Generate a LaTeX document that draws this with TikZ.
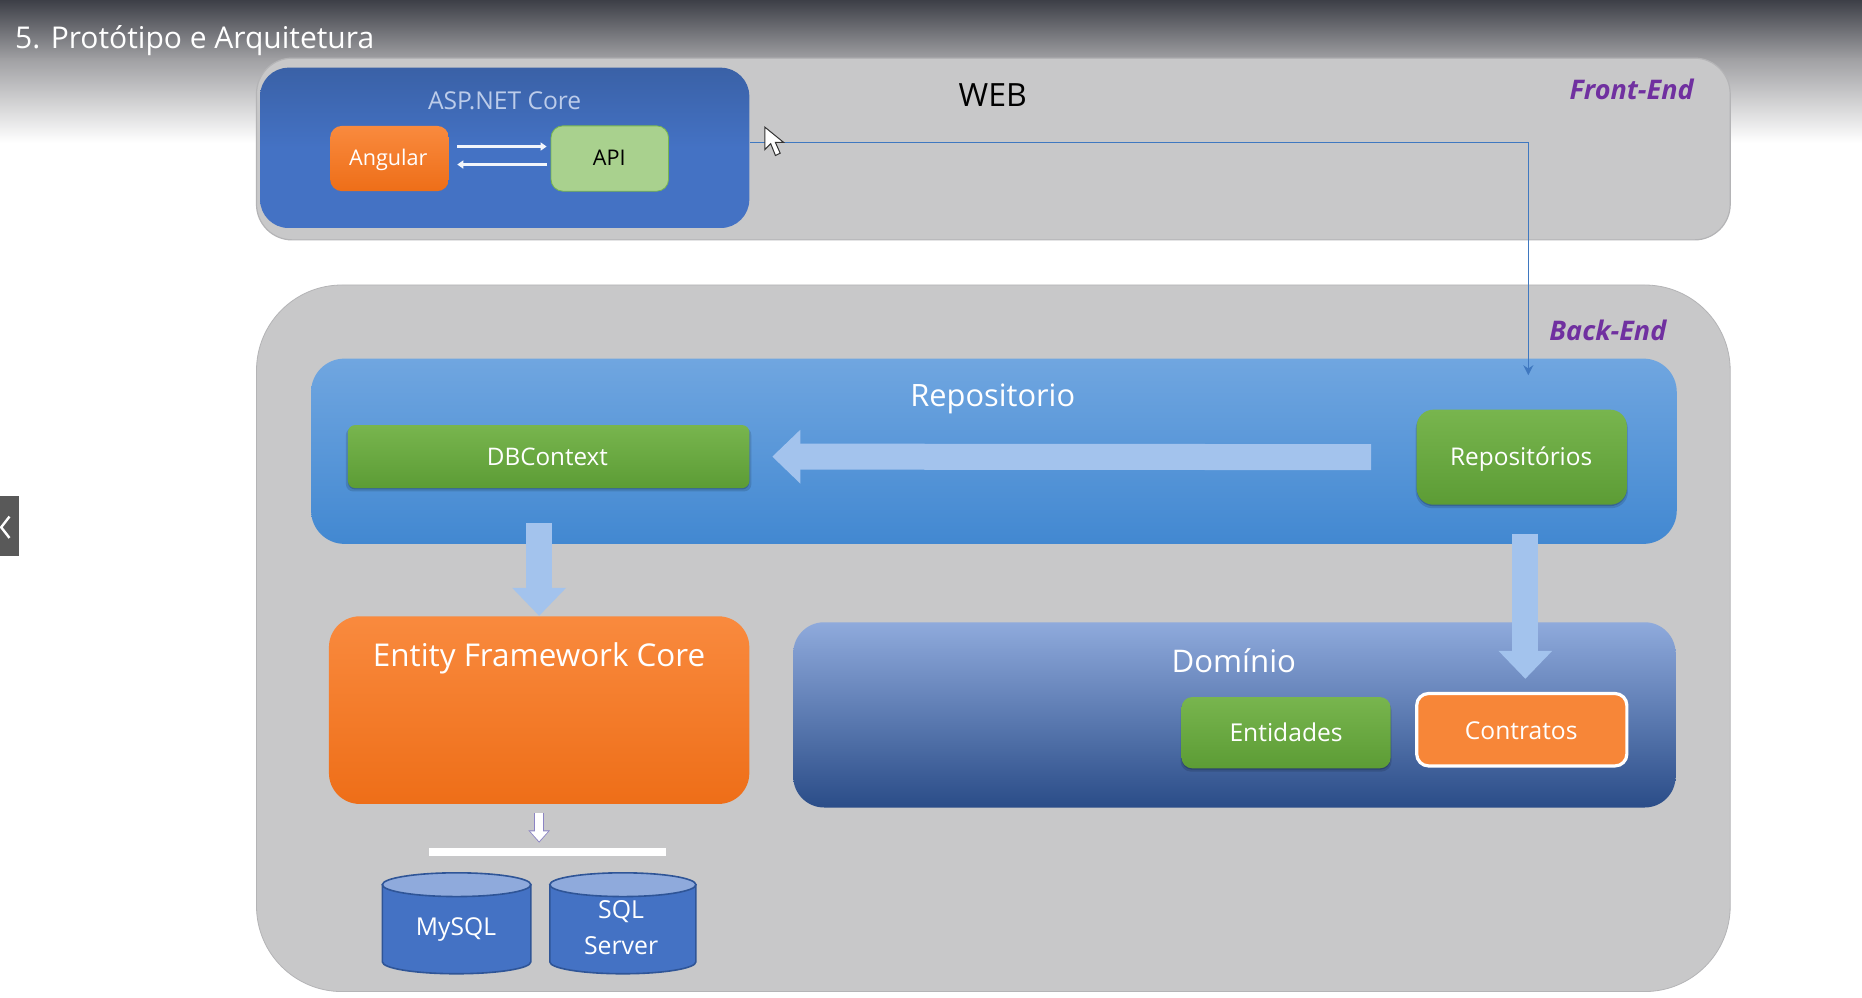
\documentclass[tikz,border=0pt]{standalone}
\usepackage{fontspec}
\setmainfont{Open Sans}
\usetikzlibrary{arrows.meta,shapes.geometric,shadows,calc}
\definecolor{arrowblue}{HTML}{A3C3ED}
\definecolor{linkblue}{HTML}{3F78C0}
\definecolor{purplelabel}{HTML}{7030A0}
\definecolor{gtop}{HTML}{78B54E}
\definecolor{gbot}{HTML}{5C9C35}
\definecolor{dbedge}{HTML}{2F5597}
\definecolor{dbbody}{HTML}{4472C4}
\definecolor{dbtop}{HTML}{8FAADC}
\definecolor{otop}{HTML}{F98A3E}
\definecolor{obot}{HTML}{EE6E18}
\definecolor{bandtop}{HTML}{3D3F47}
\definecolor{bandmid}{HTML}{A0A0A3}
\definecolor{panel}{HTML}{C8C8C9}
\definecolor{paneledge}{HTML}{B4B4B6}
\definecolor{repotop}{HTML}{70A6E0}
\definecolor{repobot}{HTML}{4288D1}
\definecolor{apifill}{HTML}{A9D18E}
\definecolor{smalledge}{HTML}{8C84C4}
\newcommand{\uu}{0.59375pt}
\newcommand{\fsz}[1]{\fontsize{#1}{#1}\selectfont}
% name, x1, y1, x2, y2, radius, style
\newcommand{\bx}[7]{\node[rectangle,inner sep=0pt,minimum width={(#4-#2)*\uu},minimum height={(#5-#3)*\uu},rounded corners={(#6)*\uu},#7] (#1) at ({(#2+#4)/2},{(#3+#5)/2}) {};}
% cylinder: left x, right x
\newcommand{\cyl}[2]{%
  \filldraw[dbpart,fill=dbbody] (#1,745) -- (#1,810) arc[start angle=180,end angle=0,x radius={(#2-#1)/2},y radius=10] -- (#2,745) -- cycle;
  \filldraw[dbpart,fill=dbtop] ({(#1+#2)/2},745) ellipse[x radius={(#2-#1)/2},y radius=10];}
\tikzset{
  x=0.59375pt,y=-0.59375pt,
  txt/.style={text=white,inner sep=0pt,align=center},
  greenbox/.style={top color=gtop,bottom color=gbot,
    general shadow={shadow xshift=0pt,shadow yshift=-1.5pt,opacity=.13,fill=black,shadow scale=1.01},
    general shadow={shadow xshift=0pt,shadow yshift=-.7pt,opacity=.18,fill=black}},
  blockarrow/.style={draw=arrowblue,line width=13pt,-{Triangle[width=26pt,length=14pt]}},
  thinwhite/.style={draw=white!88!dbtop,line width=1.9pt,-{Triangle[width=4pt,length=3pt]}},
  dbpart/.style={draw=dbedge,line width=.8pt},
}
\begin{document}
\begin{tikzpicture}
\useasboundingbox (0,0) rectangle (1568,840.4);
\fill[white] (0,0) rectangle (1568,840.4);
% top band
\shade[top color=bandtop,bottom color=bandmid] (0,0) rectangle (1568,50);
\shade[top color=bandmid,bottom color=white] (0,49.5) rectangle (1568,120);
\node[txt,anchor=west,font=\fsz{15}] (title) at (12.5,34) {5. Protótipo e Arquitetura};
% side tab
\fill[black!65] (0,418) rectangle (16,468);
\draw[white,line width=1.2pt] (8,435) -- (1,444) -- (8,453);
% panels
\bx{front}{216}{49}{1457}{202}{30}{fill=panel,draw=paneledge,line width=.6pt}
\bx{back}{216}{240}{1457}{835}{72}{fill=panel,draw=paneledge,line width=.4pt}
% front-end
\bx{asp}{219}{57}{631}{192}{24}{top color=dbbody!85!black,bottom color=dbbody,middle color=dbbody}
\node[txt,text=dbtop!60!white,font=\fsz{12.3}] (asptitle) at (425,85) {ASP.NET Core};
\bx{ang}{278}{106}{378}{161}{10}{top color=otop,bottom color=obot}
\node[txt,font=\fsz{10.8}] (angt) at (327,135) {Angular};
\bx{api}{464}{106}{563}{161}{10}{fill=apifill,draw=gtop,line width=.4pt}
\node[txt,text=black,font=\fsz{10.8}] (apit) at (513,133) {API};
\draw[thinwhite] ([yshift=6pt,xshift=4pt]ang.east) -- ([yshift=6pt,xshift=-2pt]api.west);
\draw[thinwhite] ([yshift=-3pt,xshift=-2pt]api.west) -- ([yshift=-3pt,xshift=4pt]ang.east);
\node[inner sep=0pt,text=black,font=\fsz{16}] (web) at (836,80) {WEB};
\node[inner sep=0pt,text=purplelabel,font=\bfseries\itshape\fsz{13.5}] (fe) at (1374,75) {Front-End};
\node[inner sep=0pt,text=purplelabel,font=\bfseries\itshape\fsz{13.5}] (be) at (1354,278) {Back-End};
% back-end
\bx{repo}{262}{302}{1412}{458}{28}{top color=repotop,bottom color=repobot}
\node[txt,font=\fsz{15.4}] (repot) at (836,336) {Repositorio};
\bx{db}{293}{358}{631}{411}{6}{greenbox}
\node[txt,font=\fsz{12.1}] (dbt) at (461,385) {DBContext};
\bx{repos}{1193}{345}{1370}{425}{14}{greenbox}
\node[txt,font=\fsz{12.2}] (repost) at (1281,387) {Repositórios};
\bx{ef}{277}{519}{631}{677}{26}{top color=otop,bottom color=obot}
\node[txt,font=\fsz{15.7}] (eft) at (454,554) {Entity Framework Core};
\bx{dom}{668}{524}{1411}{680}{26}{top color=dbtop,middle color=dbbody,bottom color=dbedge!90!black}
\node[txt,font=\fsz{15.6}] (domt) at (1039,556) {Domínio};
\bx{ent}{995}{587}{1171}{647}{9}{greenbox}
\node[txt,font=\fsz{12.3}] (entt) at (1083,617) {Entidades};
\bx{con}{1193}{584}{1370}{645}{10}{fill=otop!85!obot,draw=white,line width=1.6pt}
\node[txt,font=\fsz{12.3}] (cont) at (1281,615) {Contratos};
% block arrows
\draw[blockarrow,shorten <=38*\uu,shorten >=19*\uu] (repos.west) -- (db.east);
\draw[blockarrow,shorten <=29*\uu] (db.south -| ef.north) -- (ef.north);
\draw[blockarrow,shorten <=24*\uu,shorten >=11*\uu] ([xshift=3*\uu]repos.south) -- ([xshift=3*\uu]con.north);
% thin connector
\coordinate (repoin) at (1287,316);
\draw[linkblue,line width=.8pt,-{Stealth[length=5pt,width=5pt]}] ([yshift=2.6pt]asp.east) -| (repoin);
% bar and small arrow
\bx{bar}{361}{714}{561}{721}{0}{fill=white}
\draw[smalledge,line width=5pt,shorten <=7*\uu,shorten >=4*\uu,-{Triangle[width=10.4pt,length=6.2pt]}] (ef.south) -- (ef.south |- bar.north);
\draw[white,line width=4pt,shorten <=7.6*\uu,shorten >=5.2*\uu,-{Triangle[width=8.6pt,length=5pt]}] (ef.south) -- (ef.south |- bar.north);
% databases
\cyl{322}{447}
\cyl{463}{586}
\node[txt,font=\fsz{12.3}] (myt) at (384,783) {MySQL};
\node[txt,font=\fsz{12.4}] (sqlt) at (523,768) {SQL};
\node[txt,font=\fsz{12.4}] (servt) at (523,796) {Server};
% cursor
\filldraw[fill=white,draw=black!80,line width=.5pt] (644,107) -- (644,126) -- (649,121) -- (653,131) -- (657,129) -- (653,120) -- (660,120) -- cycle;
\end{tikzpicture}
\end{document}
